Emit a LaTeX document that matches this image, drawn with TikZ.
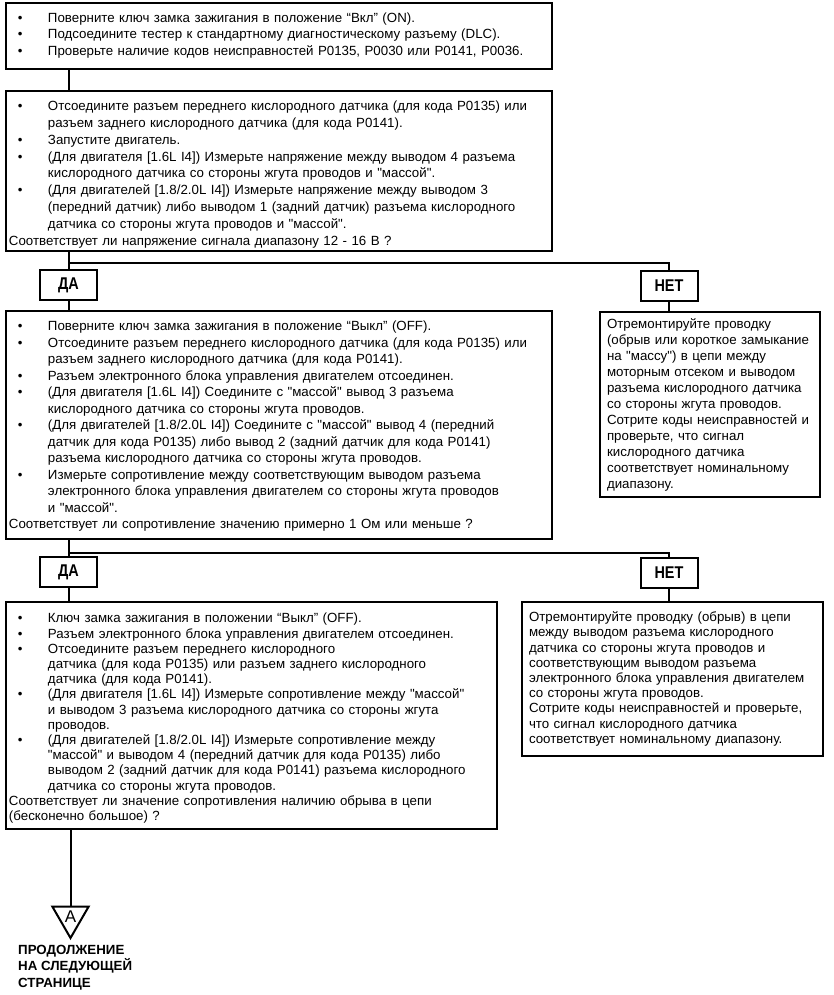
\documentclass[tikz,border=0pt]{standalone}
\usepackage{fontspec}
\setmainfont{Liberation Sans}[Ligatures=TeXOff]
\usetikzlibrary{shapes.geometric, positioning}
\tikzstyle{stepbox} = [rectangle, draw=black, line width=2pt, anchor=north west,
                       align=left, inner xsep=3pt, inner ysep=3pt,
                       font=\fontsize{13.3}{16.4}\selectfont]
\tikzstyle{fixbox}  = [stepbox, inner xsep=7pt]
\tikzstyle{answer}  = [rectangle, draw=black, line width=2pt, minimum width=57pt,
                       minimum height=30pt, font=\bfseries\fontsize{17}{17}\selectfont]
\tikzstyle{line}    = [line width=2pt]
\newcommand{\bul}{\par\noindent\hangindent=39pt\hangafter=1\hbox to 39pt{\hspace{9pt}\textbullet\hfil}\ignorespaces}
\newcommand{\ask}{\par\noindent\ignorespaces}
\newcommand{\narrow}[1]{\scalebox{0.85}[1]{#1}}

\begin{document}
\begin{tikzpicture}[x=1pt, y=-1pt]
  \useasboundingbox (0,0) rectangle (833,995);

  % checks on the left
  \node[stepbox, text width=540pt, minimum height=64pt] (chk1) at (5,2) {%
    \bul Поверните ключ замка зажигания в положение “Вкл” (ON).
    \bul Подсоедините тестер к стандартному диагностическому разъему (DLC).
    \bul Проверьте наличие кодов неисправностей P0135, P0030 или P0141, P0036.
    \par\kern8pt};
  \node[stepbox, text width=540pt, minimum height=157pt,
        font=\fontsize{13.3}{16.8}\selectfont] (chk2) at (5,90) {%
    \bul Отсоедините разъем переднего кислородного датчика (для кода P0135) или\newline
         разъем заднего кислородного датчика (для кода P0141).
    \bul Запустите двигатель.
    \bul (Для двигателя [1.6L I4]) Измерьте напряжение между выводом 4 разъема\newline
         кислородного датчика со стороны жгута проводов и "массой".
    \bul (Для двигателей [1.8/2.0L I4]) Измерьте напряжение между выводом 3\newline
         (передний датчик) либо выводом 1 (задний датчик) разъема кислородного\newline
         датчика со стороны жгута проводов и "массой".
    \ask Соответствует ли напряжение сигнала диапазону 12 - 16 В ?};
  \node[stepbox, text width=540pt, minimum height=227pt,
        font=\fontsize{13.3}{16.5}\selectfont] (chk3) at (5,310) {%
    \bul Поверните ключ замка зажигания в положение “Выкл” (OFF).
    \bul Отсоедините разъем переднего кислородного датчика (для кода P0135) или\newline
         разъем заднего кислородного датчика (для кода P0141).
    \bul Разъем электронного блока управления двигателем отсоединен.
    \bul (Для двигателя [1.6L I4]) Соедините с "массой" вывод 3 разъема\newline
         кислородного датчика со стороны жгута проводов.
    \bul (Для двигателей [1.8/2.0L I4]) Соедините с "массой" вывод 4 (передний\newline
         датчик для кода P0135) либо вывод 2 (задний датчик для кода P0141)\newline
         разъема кислородного датчика со стороны жгута проводов.
    \bul Измерьте сопротивление между соответствующим выводом разъема\newline
         электронного блока управления двигателем со стороны жгута проводов\newline
         и "массой".
    \ask Соответствует ли сопротивление значению примерно 1 Ом или меньше ?
    \par\kern5pt};
  \node[stepbox, text width=485pt, minimum height=227pt,
        font=\fontsize{13.3}{15.2}\selectfont] (chk4) at (5,601) {%
    \bul Ключ замка зажигания в положении “Выкл” (OFF).
    \bul Разъем электронного блока управления двигателем отсоединен.
    \bul Отсоедините разъем переднего кислородного\newline
         датчика (для кода P0135) или разъем заднего кислородного\newline
         датчика (для кода P0141).
    \bul (Для двигателя [1.6L I4]) Измерьте сопротивление между "массой"\newline
         и выводом 3 разъема кислородного датчика со стороны жгута\newline
         проводов.
    \bul (Для двигателей [1.8/2.0L I4]) Измерьте сопротивление между\newline
         "массой" и выводом 4 (передний датчик для кода P0135) либо\newline
         выводом 2 (задний датчик для кода P0141) разъема кислородного\newline
         датчика со стороны жгута проводов.
    \ask Соответствует ли значение сопротивления наличию обрыва в цепи\newline
         (бесконечно большое) ?};

  % repairs on the right
  \node[fixbox, text width=206pt, minimum height=185pt,
        font=\fontsize{13.3}{16}\selectfont] (fix1) at (599,311) {%
    Отремонтируйте проводку\\
    (обрыв или короткое замыкание\\
    на "массу") в цепи между\\
    моторным отсеком и выводом\\
    разъема кислородного датчика\\
    со стороны жгута проводов.\\
    Сотрите коды неисправностей и\\
    проверьте, что сигнал\\
    кислородного датчика\\
    соответствует номинальному\\
    диапазону.};
  \node[fixbox, text width=287pt, minimum height=154pt,
        font=\fontsize{13.3}{15.2}\selectfont] (fix2) at (521,601) {%
    Отремонтируйте проводку (обрыв) в цепи\\
    между выводом разъема кислородного\\
    датчика со стороны жгута проводов и\\
    соответствующим выводом разъема\\
    электронного блока управления двигателем\\
    со стороны жгута проводов.\\
    Сотрите коды неисправностей и проверьте,\\
    что сигнал кислородного датчика\\
    соответствует номинальному диапазону.};

  % answers
  \node[answer] (yes1) at (68.5,285) {\narrow{ДА}};
  \node[answer] (no1)  at (669,286)  {\narrow{НЕТ}};
  \node[answer] (yes2) at (68.5,572) {\narrow{ДА}};
  \node[answer] (no2)  at (669,573)  {\narrow{НЕТ}};

  % continuation mark
  \node[draw, line width=2pt, regular polygon, regular polygon sides=3,
        shape border rotate=180, minimum size=42pt, inner sep=0pt,
        font=\fontsize{17}{17}\selectfont] (contA) at (70.5,917) {A};
  \node[anchor=north west, align=left, inner sep=0pt,
        font=\bfseries\fontsize{13.3}{16.5}\selectfont] (contText) at (18,945)
        {ПРОДОЛЖЕНИЕ\\НА СЛЕДУЮЩЕЙ\\СТРАНИЦЕ};

  \coordinate (split1) at (68.5,263);
  \coordinate (split2) at (68.5,553);

  \draw[line] (chk1.south -| yes1) -- (chk2.north -| yes1);
  \draw[line] (chk2.south -| yes1) -- (yes1.north);
  \draw[line] (split1) -| (no1.north);
  \draw[line] (yes1.south) -- (chk3.north -| yes1);
  \draw[line] (no1.south)  -- (fix1.north -| no1);
  \draw[line] (chk3.south -| yes2) -- (yes2.north);
  \draw[line] (split2) -| (no2.north);
  \draw[line] (yes2.south) -- (chk4.north -| yes2);
  \draw[line] (no2.south)  -- (fix2.north -| no2);
  \draw[line] (chk4.south -| contA) -- (contA.north);
\end{tikzpicture}
\end{document}
